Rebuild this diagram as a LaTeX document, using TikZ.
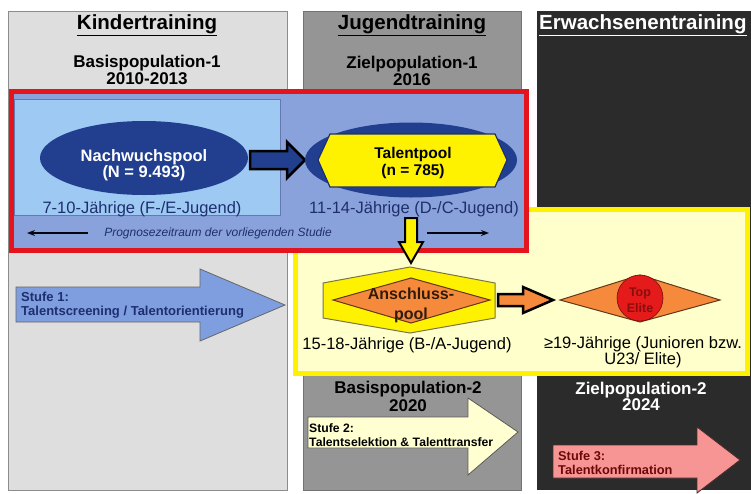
\documentclass[tikz,border=0pt]{standalone}
\usepackage{fontspec}
\setmainfont{Liberation Sans}
\usetikzlibrary{shapes.geometric,arrows.meta}
\definecolor{colA}{HTML}{DEDEDE}
\definecolor{colB}{HTML}{959595}
\definecolor{colC}{HTML}{2B2B2B}
\definecolor{redbox}{HTML}{E3141B}
\definecolor{midblue}{HTML}{8AA2DC}
\definecolor{lightblue}{HTML}{9DC9F3}
\definecolor{navy}{HTML}{213F8E}
\definecolor{navytext}{HTML}{1E2F6E}
\definecolor{lyellow}{HTML}{FFFFCC}
\definecolor{orangeF}{HTML}{F68A3C}
\definecolor{topred}{HTML}{E51A1A}
\definecolor{topredtext}{HTML}{8B0D0D}
\definecolor{stufeA}{HTML}{7F9EE0}
\definecolor{stufeB}{HTML}{FFFFD2}
\definecolor{stufeC}{HTML}{F79595}
\definecolor{stufeCtext}{HTML}{6E0808}
\tikzset{
  coltitle/.style={font=\fontsize{20.5}{22}\selectfont\bfseries, inner sep=0pt},
  colsub/.style={font=\fontsize{17}{17}\selectfont\bfseries, align=center, inner sep=0pt},
  agetext/.style={font=\fontsize{16.5}{15.5}\selectfont, align=center, inner sep=0pt},
  pooltext/.style={font=\fontsize{16}{16.5}\selectfont\bfseries, align=center, inner sep=0pt},
  stufetext/.style={font=\fontsize{13}{14}\selectfont\bfseries, align=left, inner sep=0pt, anchor=west},
  blockarrow/.style={line width=2.5pt, line join=miter, draw=black},
  thinout/.style={line width=0.8pt},
}
\begin{document}
\begin{tikzpicture}[x=1pt,y=-1pt]
\useasboundingbox (0,0) rectangle (751,493);
\fill[white] (0,0) rectangle (751,493);

% columns
\draw[draw=black!45, fill=colA] (8,11) rectangle (287,490);
\draw[draw=black!55, fill=colB] (303,11) rectangle (521,490);
\fill[colC] (537,11) rectangle (751,490);

\node[coltitle] (t1) at (147,25) {\underline{Kindertraining}};
\node[colsub] (s1) at (147,70) {Basispopulation-1\\2010-2013};
\node[coltitle] (t2) at (412,25) {\underline{Jugendtraining}};
\node[colsub] (s2) at (412,71) {Zielpopulation-1\\2016};
\node[coltitle, text=white, anchor=west] (t3) at (539,25) {\underline{Erwachsenentraining}};

% yellow box
\draw[line width=5pt, draw=yellow, fill=lyellow] (295,209) rectangle (747,373);

% red box
\draw[line width=5pt, draw=redbox, fill=midblue] (11,91) rectangle (526,250);
\draw[draw=navy!70, line width=0.8pt, fill=lightblue] (14,99) rectangle (280,215);

% Nachwuchspool
\node[ellipse, fill=navy, minimum width=208pt, minimum height=74pt, inner sep=0pt] (nach) at (144,158) {};
\node[pooltext, text=white, font=\fontsize{16.5}{16.5}\selectfont\bfseries] (nachT) at (144,165) {Nachwuchspool\\(N = 9.493)};
\node[agetext, text=navytext] (age1) at (142,209) {7-10-Jährige (F-/E-Jugend)};

% arrow Nachwuchspool -> Talentpool
\draw[blockarrow, fill=navy] (250,151) -- (287,151) -- (287,142) -- (305,160) -- (287,178) -- (287,169) -- (250,169) -- cycle;

% Talentpool
\node[ellipse, fill=navy, minimum width=212pt, minimum height=75pt, inner sep=0pt] (tal) at (411,160) {};
\draw[fill=yellow, draw=navytext, line width=1.2pt] (318,160) -- (330,134) -- (495,134) -- (507,160) -- (495,187) -- (330,187) -- cycle;
\node[pooltext, font=\fontsize{15.5}{16.5}\selectfont\bfseries] (talT) at (413,163) {Talentpool\\(n = 785)};
\node[agetext, text=navytext] (age2) at (414,209) {11-14-Jährige (D-/C-Jugend)};

% Prognose
\node[font=\fontsize{12}{12}\selectfont\itshape, text=navytext, inner sep=0pt] (prog) at (218,233) {Prognosezeitraum der vorliegenden Studie};
\coordinate (pl1) at (88,233);
\coordinate (pl2) at (27,233);
\coordinate (pr1) at (427,233);
\coordinate (pr2) at (489,233);
\draw[line width=1.6pt, draw=black!90!navy, -{Stealth[length=8pt,width=6pt]}] (pl1) -- (pl2);
\draw[line width=1.6pt, draw=black!90!navy, -{Stealth[length=8pt,width=6pt]}] (pr1) -- (pr2);

% yellow down arrow
\draw[line width=2pt, line join=miter, fill=yellow] (405,218) -- (417,218) -- (417,242) -- (423,242) -- (411,263) -- (399,242) -- (405,242) -- cycle;

% Anschlusspool
\draw[fill=yellow, draw=black!60!yellow, line width=1pt] (323,283) -- (410,267) -- (495,283) -- (495,318) -- (410,333) -- (323,318) -- cycle;
\draw[fill=orangeF, draw=black!60!orangeF, line width=1pt] (333,300) -- (411,278) -- (490,300) -- (411,323) -- cycle;
\node[pooltext, text=black!80!orangeF, font=\fontsize{16}{20}\selectfont\bfseries] (ansT) at (411,305) {Anschluss-\\pool};
\node[agetext] (age3) at (407,345) {15-18-Jährige (B-/A-Jugend)};

% orange arrow
\draw[blockarrow, fill=orangeF] (498,294) -- (523,294) -- (523,287) -- (553,300) -- (523,313) -- (523,306) -- (498,306) -- cycle;

% Top Elite
\draw[fill=orangeF, draw=black!60!orangeF, line width=1pt] (560,300) -- (640,275) -- (720,300) -- (640,322) -- cycle;
\node[circle, fill=topred, draw=black!50!topred, line width=0.6pt, minimum size=46pt, inner sep=0pt] (top) at (640,298) {};
\node[font=\fontsize{12.5}{16}\selectfont\bfseries, text=topredtext, align=center, inner sep=0pt] (topT) at (640,300) {Top\\Elite};
\node[agetext] (age4) at (643,352) {≥19-Jährige (Junioren bzw.\\U23/ Elite)};

% lower column texts
\node[colsub, font=\fontsize{17}{18}\selectfont\bfseries] (s3) at (408,396) {Basispopulation-2\\2020};
\node[colsub, text=white, font=\fontsize{17}{16}\selectfont\bfseries] (s4) at (641,396) {Zielpopulation-2\\2024};

% Stufe arrows
\draw[fill=stufeA, draw=black!60, thinout, line join=miter] (16,287) -- (200,287) -- (200,269) -- (285,305) -- (200,341) -- (200,322) -- (16,322) -- cycle;
\node[stufetext, text=navytext] (st1) at (21,305) {Stufe 1:\\Talentscreening / Talentorientierung};

\draw[fill=stufeB, draw=black!65, thinout, line join=miter] (308,417) -- (468,417) -- (468,398) -- (518,432) -- (468,475) -- (468,448) -- (308,448) -- cycle;
\node[stufetext, font=\fontsize{12.2}{13.5}\selectfont\bfseries] (st2) at (309,435) {Stufe 2:\\Talentselektion \& Talenttransfer};

\draw[fill=stufeC, draw=black!70!stufeC, thinout, line join=miter] (553,445) -- (697,445) -- (697,427) -- (740,460) -- (697,493) -- (697,478) -- (553,478) -- cycle;
\node[stufetext, text=stufeCtext, font=\fontsize{12.8}{13.5}\selectfont\bfseries] (st3) at (558,463) {Stufe 3:\\Talentkonfirmation};
\end{tikzpicture}
\end{document}
